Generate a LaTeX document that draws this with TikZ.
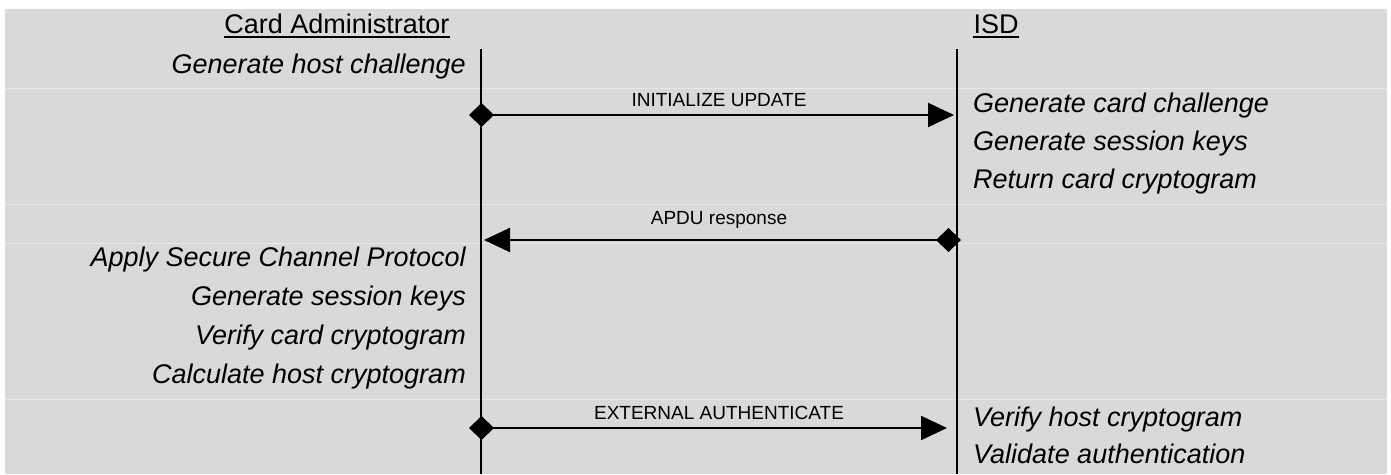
\documentclass[tikz,border=0pt]{standalone}
\usepackage{fontspec}
\setmainfont{Liberation Sans}
\usetikzlibrary{arrows.meta}
\definecolor{bg}{RGB}{217,217,217}
\definecolor{sepc}{RGB}{232,232,232}
\begin{document}
\begin{tikzpicture}[x=1pt,y=-1pt,
  life/.style={line width=2pt},
  msg/.style={line width=2pt,{Diamond[length=25pt,width=24pt]}-{Triangle[length=26pt,width=24pt]}},
  act/.style={font=\fontsize{27}{31}\selectfont\itshape,inner sep=0pt},
  actl/.style={act,anchor=base east},
  actr/.style={act,anchor=base west},
  lbl/.style={font=\fontsize{19}{22}\selectfont,inner sep=0pt,anchor=base},
  head/.style={font=\fontsize{27}{31}\selectfont,inner sep=0pt,anchor=base},
  uline/.style={line width=1.8pt}]
\useasboundingbox (0,0) rectangle (1391,474);
\fill[white] (0,0) rectangle (1391,474);
\fill[bg] (5,9) rectangle (1387,474);
\foreach \yy in {88,204,243,399}
  \draw[sepc,line width=1pt] (5,\yy) -- (1387,\yy);
% headers
\node[head] (ca) at (337,33) {Card Administrator};
\node[head] (isd) at (996,33) {ISD};
\draw[uline] ([yshift=-4pt]ca.base west) -- ([yshift=-4pt]ca.base east);
\draw[uline] ([yshift=-4pt]isd.base west) -- ([yshift=-4pt]isd.base east);
% lifelines
\coordinate (ltop) at (481,49);
\coordinate (lbot) at (481,474);
\coordinate (rtop) at (957,49);
\coordinate (rbot) at (957,474);
\draw[life] (ltop) -- (lbot);
\draw[life] (rtop) -- (rbot);
% messages
\coordinate (m1s) at (469,115);
\coordinate (m1e) at (954,115);
\draw[msg] (m1s) -- (m1e);
\node[lbl] (l1) at (719,106) {INITIALIZE UPDATE};
\coordinate (m2s) at (961,240);
\coordinate (m2e) at (484,240);
\draw[msg] (m2s) -- (m2e);
\node[lbl] (l2) at (719,224) {APDU response};
\coordinate (m3s) at (469,428);
\coordinate (m3e) at (947,428);
\draw[msg] (m3s) -- (m3e);
\node[lbl] (l3) at (719,419) {EXTERNAL AUTHENTICATE};
% left actions
\node[actl] (a1) at (466,73) {Generate host challenge};
\node[actl] (a2) at (466,266) {Apply Secure Channel Protocol};
\node[actl] (a3) at (466,305) {Generate session keys};
\node[actl] (a4) at (466,344) {Verify card cryptogram};
\node[actl] (a5) at (466,383) {Calculate host cryptogram};
% right actions
\node[actr] (b1) at (973,112) {Generate card challenge};
\node[actr] (b2) at (973,150) {Generate session keys};
\node[actr] (b3) at (973,188) {Return card cryptogram};
\node[actr] (b4) at (973,426) {Verify host cryptogram};
\node[actr] (b5) at (973,463) {Validate authentication};
\end{tikzpicture}
\end{document}
